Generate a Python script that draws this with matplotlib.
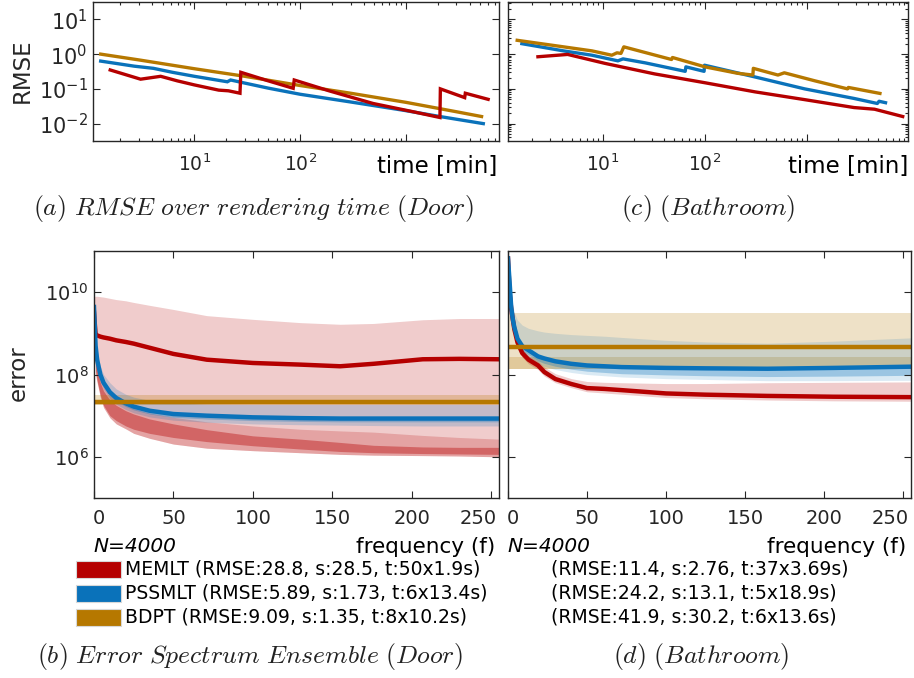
import numpy as np
import matplotlib
matplotlib.use("Agg")
import matplotlib.pyplot as plt
from matplotlib.patches import Rectangle
from matplotlib.ticker import LogLocator, NullFormatter, NullLocator
from matplotlib.transforms import ScaledTranslation

plt.rcParams['font.family'] = ['DejaVu Sans']
plt.rcParams['axes.edgecolor'] = '#262626'
plt.rcParams['xtick.color'] = '#262626'
plt.rcParams['ytick.color'] = '#262626'
plt.rcParams['text.color'] = '#262626'

RED = '#b50000'
BLUE = '#0a72ba'
GOLD = '#b67800'

# ---------------- RMSE over rendering time [min] ----------------
door_memlt_t = [1.6, 3.1, 4.8, 6.9, 10, 17, 21, 27, 27.5, 50, 86, 88, 190, 490, 1170, 2100, 2120, 3600, 3650, 6000]
door_memlt_rmse = [0.35, 0.19, 0.23, 0.17, 0.13, 0.092, 0.088, 0.075, 0.30, 0.17, 0.104, 0.18, 0.087, 0.038, 0.022, 0.015, 0.10, 0.056, 0.075, 0.05]
door_pssmlt_t = [1.3, 2.7, 4.1, 6.2, 10, 20.5, 22, 23, 29, 50, 100, 300, 970, 2100, 5400]
door_pssmlt_rmse = [0.63, 0.45, 0.39, 0.30, 0.23, 0.16, 0.18, 0.175, 0.15, 0.105, 0.07, 0.042, 0.024, 0.016, 0.010]
door_bdpt_t = [1.3, 3, 10, 30, 100, 300, 1000, 3000, 5200]
door_bdpt_rmse = [1.0, 0.68, 0.38, 0.23, 0.125, 0.075, 0.041, 0.022, 0.016]

bath_memlt_t = [2.3, 4.5, 10.5, 32, 100, 310, 950, 2900, 4600, 8700]
bath_memlt_rmse = [0.84, 0.98, 0.54, 0.27, 0.15, 0.082, 0.049, 0.029, 0.026, 0.016]
bath_pssmlt_t = [1.6, 4.1, 7.8, 14, 15.7, 26, 64, 65, 98, 99, 310, 950, 2900, 4900, 5100, 5900]
bath_pssmlt_rmse = [2.0, 1.24, 0.93, 0.64, 0.73, 0.56, 0.32, 0.43, 0.32, 0.48, 0.22, 0.10, 0.053, 0.038, 0.044, 0.040]
bath_bdpt_t = [1.44, 4.1, 7.8, 12.2, 13.7, 15, 16, 47, 48, 100, 210, 295, 298, 520, 600, 1200, 2500, 2550, 5200]
bath_bdpt_rmse = [2.5, 1.62, 1.24, 0.93, 1.09, 1.05, 1.62, 0.70, 0.80, 0.43, 0.28, 0.25, 0.39, 0.25, 0.29, 0.17, 0.10, 0.11, 0.074]

# ---------------- Error spectrum ensemble (log10 of error) ----------------
door_f = [0, 1, 2, 4, 6, 10, 14, 20, 25, 35, 50, 71, 100, 130, 155, 176, 207, 230, 255]
door_memlt_mean = [9.5, 8.97, 8.95, 8.92, 8.9, 8.87, 8.83, 8.79, 8.75, 8.65, 8.5, 8.36, 8.28, 8.24, 8.2, 8.26, 8.37, 8.38, 8.37]
door_memlt_hi = [9.9, 9.9, 9.9, 9.89, 9.88, 9.85, 9.82, 9.79, 9.75, 9.68, 9.58, 9.43, 9.34, 9.26, 9.22, 9.24, 9.33, 9.36, 9.36]
door_memlt_lo = [9.5, 8.0, 7.8, 7.45, 7.2, 6.95, 6.8, 6.68, 6.57, 6.45, 6.31, 6.21, 6.15, 6.1, 6.06, 6.04, 6.03, 6.02, 6.0]
door_memlt_mid_hi = [9.5, 8.5, 8.2, 7.9, 7.7, 7.5, 7.38, 7.25, 7.17, 7.06, 6.96, 6.85, 6.75, 6.67, 6.63, 6.6, 6.52, 6.47, 6.43]
door_memlt_core_hi = [9.5, 8.4, 8.1, 7.8, 7.6, 7.38, 7.25, 7.12, 7.04, 6.92, 6.8, 6.66, 6.51, 6.43, 6.35, 6.28, 6.24, 6.23, 6.23]
door_memlt_core_lo = [9.5, 8.1, 7.85, 7.5, 7.25, 7.0, 6.88, 6.75, 6.67, 6.57, 6.47, 6.37, 6.27, 6.19, 6.13, 6.1, 6.08, 6.07, 6.06]

door_pssmlt_mean = [9.64, 8.7, 8.35, 8.0, 7.8, 7.57, 7.43, 7.3, 7.22, 7.12, 7.04, 7.0, 6.96, 6.94, 6.93, 6.93, 6.93, 6.93, 6.93]
door_pssmlt_hi = [9.64, 8.9, 8.6, 8.2, 8.0, 7.8, 7.65, 7.52, 7.45, 7.37, 7.31, 7.28, 7.27, 7.27, 7.27, 7.27, 7.27, 7.27, 7.27]
door_pssmlt_lo = [9.64, 8.55, 8.2, 7.85, 7.65, 7.42, 7.28, 7.15, 7.07, 6.97, 6.89, 6.84, 6.8, 6.78, 6.77, 6.76, 6.75, 6.75, 6.75]
door_pssmlt_core_hi = [9.64, 8.75, 8.4, 8.05, 7.85, 7.62, 7.47, 7.34, 7.26, 7.16, 7.08, 7.04, 7.0, 6.98, 6.97, 6.97, 6.97, 6.97, 6.97]
door_pssmlt_core_lo = [9.64, 8.6, 8.27, 7.92, 7.72, 7.49, 7.35, 7.22, 7.14, 7.04, 6.96, 6.92, 6.88, 6.86, 6.85, 6.85, 6.85, 6.85, 6.85]

door_bdpt_f = [0, 255]
door_bdpt_mean = [7.33, 7.33]
door_bdpt_hi = [7.49, 7.49]
door_bdpt_lo = [7.26, 7.26]

bath_f = [0, 1, 2, 3, 4, 6, 9, 13, 19, 23, 30, 40, 50, 61, 72, 100, 125, 164, 206, 255]
bath_memlt_mean = [10.82, 10.0, 9.6, 9.35, 9.1, 8.78, 8.52, 8.36, 8.22, 8.06, 7.89, 7.77, 7.67, 7.65, 7.62, 7.54, 7.51, 7.48, 7.46, 7.45]
bath_memlt_hi = [10.82, 10.1, 9.7, 9.45, 9.2, 8.88, 8.62, 8.46, 8.32, 8.18, 8.02, 7.9, 7.83, 7.81, 7.8, 7.78, 7.78, 7.8, 7.81, 7.82]
bath_memlt_lo = [10.82, 9.9, 9.5, 9.25, 9.0, 8.68, 8.42, 8.26, 8.12, 7.96, 7.8, 7.68, 7.58, 7.55, 7.52, 7.44, 7.41, 7.38, 7.36, 7.35]

bath_pssmlt_mean = [10.82, 10.25, 9.65, 9.35, 9.15, 8.87, 8.69, 8.59, 8.44, 8.39, 8.32, 8.26, 8.22, 8.2, 8.18, 8.16, 8.15, 8.14, 8.16, 8.19]
bath_pssmlt_hi = [10.82, 10.4, 10.0, 9.7, 9.5, 9.32, 9.2, 9.12, 9.06, 9.03, 9.0, 8.97, 8.95, 8.93, 8.9, 8.83, 8.79, 8.76, 8.81, 8.89]
bath_pssmlt_lo = [10.82, 10.0, 9.4, 9.1, 8.9, 8.65, 8.5, 8.4, 8.27, 8.2, 8.12, 8.05, 8.0, 7.97, 7.94, 7.9, 7.88, 7.85, 7.85, 7.86]
bath_pssmlt_core_lo = [10.82, 10.1, 9.5, 9.2, 9.0, 8.75, 8.58, 8.48, 8.33, 8.27, 8.2, 8.13, 8.08, 8.05, 8.02, 7.99, 7.97, 7.95, 7.96, 7.98]

bath_bdpt_f = [0, 255]
bath_bdpt_mean = [8.67, 8.67]
bath_bdpt_hi = [9.5, 9.5]
bath_bdpt_lo = [8.14, 8.14]
bath_bdpt_core_hi = [8.42, 8.42]

# ---------------- legend / annotation text ----------------
door_labels = ['MEMLT (RMSE:28.8, s:28.5, t:50x1.9s)',
               'PSSMLT (RMSE:5.89, s:1.73, t:6x13.4s)',
               'BDPT (RMSE:9.09, s:1.35, t:8x10.2s)']
bath_labels = ['(RMSE:11.4, s:2.76, t:37x3.69s)',
               '(RMSE:24.2, s:13.1, t:5x18.9s)',
               '(RMSE:41.9, s:30.2, t:6x13.6s)']
method_colors = [RED, BLUE, GOLD]

W, H = 914, 678
fig = plt.figure(figsize=(W / 100, H / 100), dpi=100)


def box(x0, y0, x1, y1):
    return [x0 / W, 1 - y1 / H, (x1 - x0) / W, (y1 - y0) / H]


def style_time_axes(ax, show_ylabels):
    ax.set_xscale('log')
    ax.set_yscale('log')
    ax.set_ylim(10 ** -2.5, 10 ** 1.5)
    ax.set_yticks([1e-2, 1e-1, 1e0, 1e1])
    ax.yaxis.set_minor_locator(LogLocator(base=10, subs=np.arange(2, 10)))
    ax.yaxis.set_minor_formatter(NullFormatter())
    ax.set_xticks([10, 100, 1000])
    ax.set_xticklabels(['$10^{1}$', '$10^{2}$', ''])
    ax.xaxis.set_minor_locator(LogLocator(base=10, subs=np.arange(2, 10)))
    ax.xaxis.set_minor_formatter(NullFormatter())
    ax.tick_params(which='both', direction='in', top=True, right=True, width=0.8)
    ax.tick_params(which='major', length=5)
    ax.tick_params(which='minor', length=2.5)
    ax.tick_params(axis='x', labelsize=13.5, pad=9)
    if show_ylabels:
        ax.set_yticklabels(['$10^{-2}$', '$10^{-1}$', '$10^{0}$', '$10^{1}$'])
        ax.tick_params(axis='y', labelsize=15, pad=4)
    else:
        ax.set_yticklabels([])
    for s in ax.spines.values():
        s.set_linewidth(1.0)


def style_spec_axes(ax, show_ylabels):
    ax.set_yscale('log')
    ax.set_ylim(1e5, 1e11)
    ax.set_xlim(0, 255)
    ax.set_yticks([1e6, 1e8, 1e10])
    ax.yaxis.set_minor_locator(NullLocator())
    ax.set_xticks([0, 50, 100, 150, 200, 250])
    ax.tick_params(which='both', direction='in', top=True, right=True, width=0.8)
    ax.tick_params(which='major', length=5)
    ax.tick_params(axis='x', labelsize=14, pad=8)
    ax.tick_params(axis='y', labelsize=14, pad=4)
    if show_ylabels:
        ax.set_yticklabels(['$10^{6}$', '$10^{8}$', '$10^{10}$'])
    else:
        ax.set_yticklabels([])
    for s in ax.spines.values():
        s.set_linewidth(1.0)
    # keep the end labels inside the panel
    ticks = ax.xaxis.get_major_ticks()
    first, last = ticks[0].label1, ticks[-1].label1
    first.set_transform(first.get_transform() + ScaledTranslation(0.05, 0, fig.dpi_scale_trans))
    last.set_horizontalalignment('right')
    last.set_transform(last.get_transform() + ScaledTranslation(0.06, 0, fig.dpi_scale_trans))


# (a) Door RMSE
ax_a = fig.add_axes(box(93, 2, 499, 141))
ax_a.plot(door_pssmlt_t, door_pssmlt_rmse, color=BLUE, lw=2.4, solid_joinstyle='miter')
ax_a.plot(door_bdpt_t, door_bdpt_rmse, color=GOLD, lw=2.4)
ax_a.plot(door_memlt_t, door_memlt_rmse, color=RED, lw=2.4, solid_joinstyle='miter')
ax_a.set_xlim(1.1, 7600)
style_time_axes(ax_a, True)

# (c) Bathroom RMSE
ax_c = fig.add_axes(box(508, 2, 908, 141))
ax_c.plot(bath_pssmlt_t, bath_pssmlt_rmse, color=BLUE, lw=2.4)
ax_c.plot(bath_bdpt_t, bath_bdpt_rmse, color=GOLD, lw=2.4)
ax_c.plot(bath_memlt_t, bath_memlt_rmse, color=RED, lw=2.4)
ax_c.set_xlim(1.17, 9800)
style_time_axes(ax_c, False)

fig.text(22 / W, 1 - 71 / H, 'RMSE', fontsize=16.5, rotation=90,
         ha='center', va='center')
for x_right in (497, 908):
    fig.text(x_right / W, 1 - 166 / H, 'time [min]', fontsize=16.5,
             ha='right', va='center', color='black')


def lg(v):
    return 10 ** np.asarray(v, dtype=float)


# (b) Door error spectrum
ax_b = fig.add_axes(box(94, 251, 499, 498))
ax_b.fill_between(door_f, lg(door_memlt_lo), lg(door_memlt_hi), color=RED, alpha=0.2, lw=0)
ax_b.fill_between(door_f, lg(door_memlt_lo), lg(door_memlt_mid_hi), color=RED, alpha=0.2, lw=0)
ax_b.fill_between(door_f, lg(door_memlt_core_lo), lg(door_memlt_core_hi), color=RED, alpha=0.38, lw=0)
ax_b.fill_between(door_bdpt_f, lg(door_bdpt_lo), lg(door_bdpt_hi), color=GOLD, alpha=0.25, lw=0)
ax_b.fill_between(door_f, lg(door_pssmlt_lo), lg(door_pssmlt_hi), color=BLUE, alpha=0.2, lw=0)
ax_b.fill_between(door_f, lg(door_pssmlt_core_lo), lg(door_pssmlt_core_hi), color=BLUE, alpha=0.3, lw=0)
ax_b.plot(door_f, lg(door_memlt_mean), color=RED, lw=3.2)
ax_b.plot(door_f, lg(door_pssmlt_mean), color=BLUE, lw=3.2)
ax_b.plot(door_bdpt_f, lg(door_bdpt_mean), color=GOLD, lw=3.2)
style_spec_axes(ax_b, True)
fig.text(18 / W, 1 - 373 / H, 'error', fontsize=16.5, rotation=90,
         ha='center', va='center')

# (d) Bathroom error spectrum
ax_d = fig.add_axes(box(508, 251, 911, 498))
ax_d.fill_between(bath_bdpt_f, lg(bath_bdpt_lo), lg(bath_bdpt_hi), color=GOLD, alpha=0.22, lw=0)
ax_d.fill_between(bath_bdpt_f, lg(bath_bdpt_lo), lg(bath_bdpt_core_hi), color=GOLD, alpha=0.22, lw=0)
ax_d.fill_between(bath_f, lg(bath_memlt_lo), lg(bath_memlt_hi), color=RED, alpha=0.2, lw=0)
ax_d.fill_between(bath_f, lg(bath_pssmlt_lo), lg(bath_pssmlt_hi), color=BLUE, alpha=0.15, lw=0)
ax_d.fill_between(bath_f, lg(bath_pssmlt_core_lo), lg(bath_pssmlt_mean), color=BLUE, alpha=0.3, lw=0)
ax_d.plot(bath_f, lg(bath_memlt_mean), color=RED, lw=3.2)
ax_d.plot(bath_f, lg(bath_pssmlt_mean), color=BLUE, lw=3.2)
ax_d.plot(bath_bdpt_f, lg(bath_bdpt_mean), color=GOLD, lw=3.2)
style_spec_axes(ax_d, False)

for x_n, x_f in ((93, 495), (507, 906)):
    fig.text(x_n / W, 1 - 547 / H, 'N=4000', fontsize=14.5, style='italic',
             ha='left', va='center', color='black')
    fig.text(x_f / W, 1 - 547 / H, 'frequency (f)', fontsize=15.5,
             ha='right', va='center', color='black')

# legend rows
row_y = [569, 593, 617]
for c, lab_d, lab_b, y in zip(method_colors, door_labels, bath_labels, row_y):
    fig.add_artist(Rectangle((76 / W, 1 - (y + 8.5) / H), 45 / W, 17 / H,
                             transform=fig.transFigure, facecolor=c,
                             edgecolor='#d8d8d8', lw=0.8))
    fig.text(125 / W, 1 - y / H, lab_d, fontsize=13.5, ha='left', va='center', color='black')
    fig.text(551 / W, 1 - y / H, lab_b, fontsize=13.5, ha='left', va='center', color='black')

# captions
caps = [(253, 208, r'$\mathit{(a)\ RMSE\ over\ rendering\ time\ (Door)}$'),
        (708, 208, r'$\mathit{(c)\ (Bathroom)}$'),
        (250, 657, r'$\mathit{(b)\ Error\ Spectrum\ Ensemble\ (Door)}$'),
        (701, 657, r'$\mathit{(d)\ (Bathroom)}$')]
for x, y, s in caps:
    fig.text(x / W, 1 - y / H, s, fontsize=18.5, ha='center', va='center',
             math_fontfamily='cm', color='#222222')

fig.savefig('out.png', dpi=100)
